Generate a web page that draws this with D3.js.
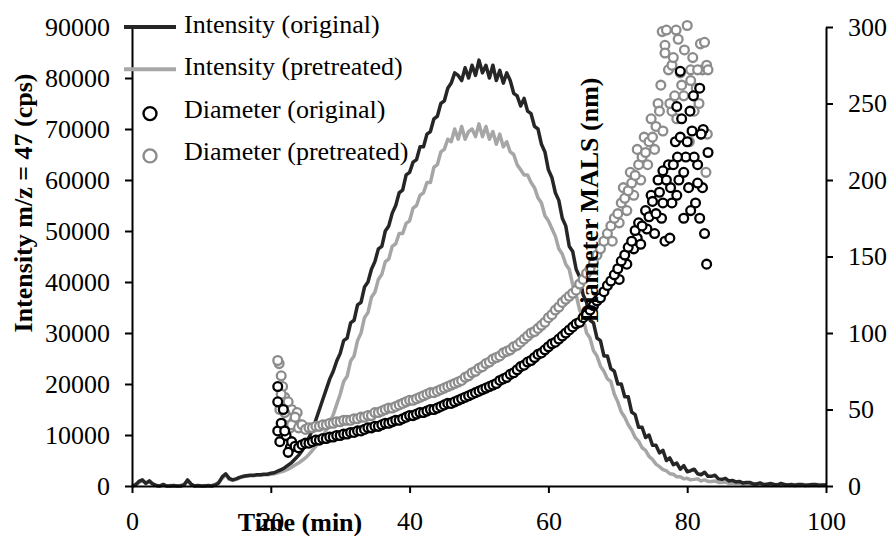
<!DOCTYPE html>
<html lang="en">
<head>
<meta charset="UTF-8">
<title>Intensity and diameter vs time</title>
<script src="https://cdnjs.cloudflare.com/ajax/libs/d3/7.8.5/d3.min.js"></script>
<style>
  body { margin: 0; background: #fff; }
  text { font-family: "Liberation Serif", "Times New Roman", serif; }
</style>
</head>
<body>
<div id="wrapper"></div>
<script>
// intensity traces, one value every 0.5 min from 0 to 100
const intensityOriginal = [
  0, 200, 900, 1200, 500, 1000, 400, 100, 0, 300,
  0, 0, 100, 0, 0, 200, 1200, 400, 0, 100,
  0, 0, 100, 0, 200, 600, 1800, 2400, 1500, 1200,
  1400, 1700, 1900, 2000, 2100, 2100, 2200, 2200, 2300, 2300,
  2500, 2600, 2900, 3200, 3600, 4100, 4600, 5300, 6000, 6900,
  8000, 9500, 11000, 13000, 15000, 17000, 19000, 21000, 22500, 24500,
  26000, 28500, 29000, 32000, 32500, 35500, 36000, 39000, 40000, 42500,
  44000, 46500, 47000, 50000, 51000, 53500, 55000, 57500, 58000, 61000,
  61500, 63500, 64000, 66500, 66500, 69000, 69500, 72000, 72500, 75000,
  75500, 78000, 79000, 81000, 80500, 79500, 82000, 80000, 82500, 80500,
  83500, 81000, 82500, 80000, 82500, 79500, 81500, 79000, 81000, 79500,
  77000, 76500, 74500, 76000, 73500, 73000, 70500, 70000, 67000, 65500,
  62000, 60500, 57500, 56000, 52500, 51000, 47000, 46000, 42500, 41000,
  37500, 36000, 32500, 32000, 29000, 28500, 25500, 25500, 23000, 22500,
  20000, 20000, 17500, 17500, 14500, 14000, 11500, 11500, 9500, 10000,
  8000, 8000, 6500, 7000, 5000, 5500, 4200, 4500, 3300, 4000,
  2800, 3000, 3300, 2400, 2200, 2700, 1900, 1900, 2100, 1400,
  1300, 1500, 1000, 1100, 800, 900, 600, 700, 700, 400,
  400, 600, 300, 300, 500, 300, 200, 500, 300, 200,
  300, 100, 300, 300, 100, 200, 300, 300, 100, 200,
  200
]
const intensityPretreated = [
  0, 300, 700, 1000, 600, 800, 300, 100, 0, 200,
  0, 100, 0, 0, 100, 300, 900, 300, 0, 0,
  0, 100, 0, 100, 300, 800, 1500, 2200, 1300, 1100,
  1300, 1600, 1800, 1900, 2000, 2000, 2100, 2100, 2200, 2200,
  2300, 2400, 2600, 2800, 3000, 3300, 3700, 4100, 4500, 5000,
  5500, 6200, 7000, 7800, 8800, 9800, 11000, 12500, 14000, 16000,
  18000, 20500, 21500, 24500, 25500, 28500, 30000, 33000, 34000, 37000,
  38000, 40500, 41500, 44000, 44500, 47000, 47500, 49500, 49500, 51500,
  52000, 54500, 55000, 57000, 57500, 59500, 59500, 62500, 63000, 65500,
  66000, 68000, 67500, 70000, 68000, 70500, 68000, 69500, 70000, 68500,
  71000, 68500, 70500, 68000, 69500, 67000, 69000, 66500, 67500, 65500,
  65000, 63000, 62000, 61000, 61000, 59500, 58500, 56500, 55500, 53000,
  52000, 50500, 49000, 46500, 45500, 43500, 42500, 39500, 37500, 34500,
  33000, 30000, 29000, 26500, 25500, 23500, 22500, 21000, 20500, 18000,
  16500, 14500, 13500, 12000, 11000, 9500, 8800, 7500, 7000, 5800,
  5200, 4300, 3800, 3200, 3000, 2400, 2300, 1800, 1800, 1400,
  1500, 1200, 1300, 1400, 1000, 1200, 900, 900, 1000, 700,
  700, 800, 500, 600, 500, 600, 300, 500, 400, 200,
  400, 300, 200, 400, 200, 300, 300, 100, 300, 200,
  200, 300, 100, 200, 300, 100, 200, 200, 300, 200,
  200
]

// diameter, one value every 0.5 min from 21 to 83
const diameterOriginal = [
  65, 41, 36, 22, 29, 26, 25, 27, 28, 28,
  29, 30, 30, 31, 31, 32, 32, 33, 33, 34,
  34, 35, 35, 36, 36, 37, 38, 38, 39, 39,
  40, 41, 41, 42, 43, 43, 44, 45, 46, 46,
  47, 48, 48, 49, 50, 50, 51, 52, 53, 54,
  54, 55, 56, 57, 58, 59, 60, 61, 62, 63,
  64, 65, 66, 67, 69, 70, 71, 73, 74, 76,
  78, 79, 81, 82, 84, 86, 87, 89, 91, 93,
  94, 96, 98, 100, 102, 104, 106, 107, 110, 112,
  115, 118, 121, 123, 127, 131, 134, 138, 142, 147,
  151, 156, 160, 167, 172, 170, 180, 176, 186, 178,
  192, 185, 200, 162, 210, 190, 271, 205, 225, 180,
  215, 198, 230, 165, 218
]
const diameterPretreated = [
  82, 60, 48, 55, 40, 45, 38, 40, 37, 38,
  38, 39, 39, 40, 40, 41, 41, 42, 42, 43,
  43, 43, 44, 44, 45, 45, 46, 46, 48, 48,
  49, 50, 51, 51, 52, 53, 54, 55, 56, 56,
  57, 58, 59, 60, 61, 61, 62, 63, 64, 65,
  66, 67, 68, 69, 71, 72, 74, 75, 77, 78,
  80, 81, 83, 84, 85, 87, 88, 89, 91, 92,
  94, 96, 98, 100, 101, 103, 105, 107, 110, 112,
  115, 117, 120, 122, 124, 126, 128, 132, 135, 139,
  142, 146, 151, 155, 160, 165, 170, 175, 178, 185,
  188, 193, 198, 203, 210, 215, 218, 225, 228, 235,
  245, 232, 298, 250, 280, 240, 270, 255, 301, 265,
  245, 272, 230, 290, 272
]

// extra scattered diameter readings (time, nm)
const extraOriginalTime = [21, 21, 21.3, 21.8, 22.2, 22.8, 70.2, 71.3, 72.3, 72.8, 73.3, 74.2, 74.8, 75.3, 75.8, 76.3,
  76.8, 77.3, 77.8, 78.3, 78.8, 79.2, 79.5, 80.2, 80.4, 80.7, 81.2, 81.5, 81.8, 82.2, 82.8, 80.9, 79.8, 78.6, 76.5, 77.6,
  79, 81.8, 82.3, 78.5]
const extraOriginalDiameter = [55, 36, 29, 50, 33, 25, 135, 145, 155, 162, 158, 168, 190, 165, 200, 175,
  160, 210, 185, 225, 200, 240, 175, 195, 245, 232, 185, 210, 175, 195, 145, 255, 215, 215, 206, 195,
  228, 260, 233, 248]
const extraPretreatedTime = [21.2, 21.5, 21.7, 22, 22.3, 22.5, 23, 23.3, 23.8, 24.2, 21.3, 22.8, 69.2, 70.2, 70.8, 71.3,
  71.8, 72.3, 72.8, 73.3, 73.8, 74.3, 74.8, 75.3, 75.8, 76.2, 76.8, 77.3, 77.8, 78.2, 78.7, 79.2, 79.6, 80.3, 80.8, 81.3,
  81.7, 82.2, 82.7, 82.9, 76.4, 78.4, 80.5, 81.9, 76.8, 77.8, 82.8]
const extraPretreatedDiameter = [80, 72, 65, 58, 52, 45, 50, 42, 48, 40, 50, 38, 160, 172, 195, 180,
  205, 190, 220, 200, 228, 210, 240, 220, 250, 262, 288, 272, 245, 255, 292, 262, 285, 225, 280, 260,
  250, 272, 205, 230, 297, 298, 272, 289, 283, 275, 275]

const xTicks = [0, 20, 40, 60, 80, 100]
const yLeftTicks = [0, 10000, 20000, 30000, 40000, 50000, 60000, 70000, 80000, 90000]
const yRightTicks = [0, 50, 100, 150, 200, 250, 300]

const legendItems = [
  { label: 'Intensity (original)', kind: 'line', color: '#262626' },
  { label: 'Intensity (pretreated)', kind: 'line', color: '#a8a8a8' },
  { label: 'Diameter (original)', kind: 'circle', color: '#000000' },
  { label: 'Diameter (pretreated)', kind: 'circle', color: '#8c8c8c' },
]

function drawChart() {
  const intensityTime = d3.range(intensityOriginal.length).map(i => i * 0.5)
  const diameterTime = d3.range(diameterOriginal.length).map(i => 21 + i * 0.5)

  let dimensions = {
    width: 896,
    height: 536,
    margin: { top: 27, right: 70, bottom: 50, left: 132 },
  }
  dimensions.boundedWidth = 826 - dimensions.margin.left
  dimensions.boundedHeight = 486 - dimensions.margin.top

  const svg = d3.select('#wrapper')
    .append('svg')
      .attr('width', dimensions.width)
      .attr('height', dimensions.height)

  const bounds = svg.append('g')
    .attr('transform', `translate(${dimensions.margin.left},${dimensions.margin.top})`)

  const xScale = d3.scaleLinear().domain([0, 100]).range([0, dimensions.boundedWidth])
  const yScale = d3.scaleLinear().domain([0, 90000]).range([dimensions.boundedHeight, 0])
  const y2Scale = d3.scaleLinear().domain([0, 300]).range([dimensions.boundedHeight, 0])

  // intensity lines
  const lineGen = (values) => d3.line()
    .x((d, i) => xScale(intensityTime[i]))
    .y(d => yScale(d))(values)

  bounds.append('path')
    .attr('d', lineGen(intensityPretreated))
    .attr('fill', 'none')
    .attr('stroke', '#a6a6a6')
    .attr('stroke-width', 3.5)
    .attr('stroke-linejoin', 'round')

  bounds.append('path')
    .attr('d', lineGen(intensityOriginal))
    .attr('fill', 'none')
    .attr('stroke', '#262626')
    .attr('stroke-width', 3.5)
    .attr('stroke-linejoin', 'round')

  // right axis title sits under the markers
  svg.append('text')
    .attr('transform', 'translate(598,200) rotate(-90)')
    .attr('text-anchor', 'middle')
    .attr('font-size', 26)
    .attr('font-weight', 'bold')
    .text('Diameter MALS (nm)')

  // diameter markers
  const drawCircles = (times, values, color) => {
    bounds.append('g')
      .selectAll('circle')
      .data(values)
      .join('circle')
        .attr('cx', (d, i) => xScale(times[i]))
        .attr('cy', d => y2Scale(d))
        .attr('r', 4.4)
        .attr('fill', '#fff')
        .attr('stroke', color)
        .attr('stroke-width', 2.3)
  }
  drawCircles(extraPretreatedTime, extraPretreatedDiameter, '#8c8c8c')
  drawCircles(diameterTime, diameterPretreated, '#8c8c8c')
  drawCircles(extraOriginalTime, extraOriginalDiameter, '#000')
  drawCircles(diameterTime, diameterOriginal, '#000')

  // axes
  const styleAxis = g => {
    g.select('.domain').attr('stroke', '#000').attr('stroke-width', 2)
    g.selectAll('.tick line').attr('stroke', '#000').attr('stroke-width', 2)
    g.selectAll('.tick text')
      .attr('fill', '#000')
      .style('font-family', '"Liberation Serif", "Times New Roman", serif')
      .style('font-size', '26px')
  }

  bounds.append('g')
    .call(d3.axisLeft(yScale).tickValues(yLeftTicks).tickFormat(d3.format('d'))
      .tickSize(7).tickSizeOuter(0).tickPadding(15))
    .call(styleAxis)

  bounds.append('g')
    .attr('transform', `translate(${dimensions.boundedWidth},0)`)
    .call(d3.axisRight(y2Scale).tickValues(yRightTicks).tickFormat(d3.format('d'))
      .tickSize(7).tickSizeOuter(0).tickPadding(15))
    .call(styleAxis)

  bounds.append('g')
    .attr('transform', `translate(0,${dimensions.boundedHeight})`)
    .call(d3.axisBottom(xScale).tickValues(xTicks).tickFormat(d3.format('d'))
      .tickSize(7).tickSizeOuter(0).tickPadding(19))
    .call(styleAxis)

  // axis titles
  svg.append('text')
    .attr('transform', 'translate(32,203) rotate(-90)')
    .attr('text-anchor', 'middle')
    .attr('font-size', 26)
    .attr('font-weight', 'bold')
    .text('Intensity m/z = 47 (cps)')

  svg.append('text')
    .attr('x', 300)
    .attr('y', 531)
    .attr('text-anchor', 'middle')
    .attr('font-size', 26)
    .attr('font-weight', 'bold')
    .text('Time (min)')

  // legend
  const legend = svg.append('g')
  legendItems.forEach((item, i) => {
    const base = 33 + i * 42.3
    if (item.kind === 'line') {
      legend.append('line')
        .attr('x1', 124).attr('x2', 176)
        .attr('y1', base - 6).attr('y2', base - 6)
        .attr('stroke', item.color)
        .attr('stroke-width', 4)
    } else {
      legend.append('circle')
        .attr('cx', 150).attr('cy', base - 4)
        .attr('r', 6.5)
        .attr('fill', '#fff')
        .attr('stroke', item.color)
        .attr('stroke-width', 2.4)
    }
    legend.append('text')
      .attr('x', 184)
      .attr('y', base)
      .attr('font-size', 26)
      .text(item.label)
  })
}

drawChart()
</script>
</body>
</html>
